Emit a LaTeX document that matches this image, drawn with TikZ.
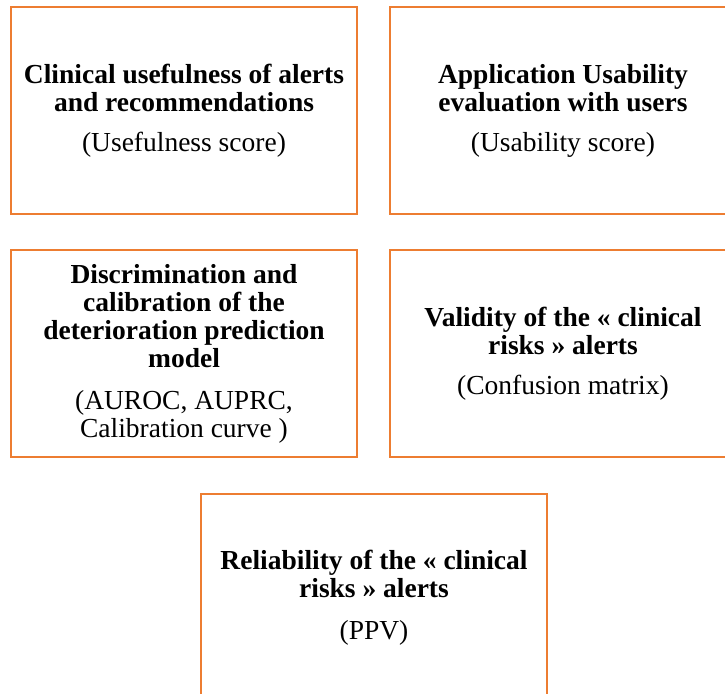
\documentclass[tikz,border=0pt]{standalone}
\usepackage{fontspec}
\setmainfont{Liberation Serif}
\usepackage{tikz}
\definecolor{boxorange}{RGB}{237,125,49}

\begin{document}
\begin{tikzpicture}[x=0.5pt,y=-0.5pt,
  box node/.style={rectangle,draw=boxorange,line width=1pt,minimum width=173pt,
    minimum height=103.5pt,align=center,font=\fontsize{13.75}{14}\selectfont}]

  \useasboundingbox (0,0) rectangle (725,694);
  \clip (0,0) rectangle (725,694);

  \node[box node] (1) at (184,111) {\textbf{Clinical usefulness of alerts}\\\textbf{and recommendations}\\[6pt](Usefulness score)};
  \node[box node] (2) at (563,111) {\textbf{Application Usability}\\\textbf{evaluation with users}\\[6pt](Usability score)};
  \node[box node] (3) at (184,353.5) {\textbf{Discrimination and}\\\textbf{calibration of the}\\\textbf{deterioration prediction}\\\textbf{model}\\[7pt](AUROC, AUPRC,\\Calibration curve )};
  \node[box node] (4) at (563,353.5) {\textbf{Validity of the « clinical}\\\textbf{risks » alerts}\\[6pt](Confusion matrix)};
  \node[box node] (5) at (374,598) {\textbf{Reliability of the « clinical}\\\textbf{risks » alerts}\\[7pt](PPV)};

\end{tikzpicture}
\end{document}
